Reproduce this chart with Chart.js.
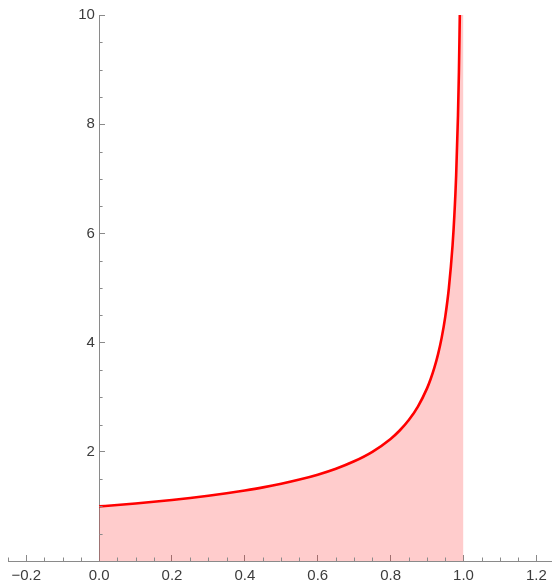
<!DOCTYPE html>
<html><head><meta charset="utf-8">
<script src="https://cdn.jsdelivr.net/npm/chart.js@4.4.1/dist/chart.umd.min.js"></script>
<style>html,body{margin:0;padding:0;background:#fff;}canvas{display:block;}</style>
</head><body>
<canvas id="c" width="552" height="582" style="width:552px;height:582px"></canvas>
<script>
// Curve samples
const xValues = [0, 0.05, 0.1, 0.15, 0.2, 0.25, 0.3, 0.35, 0.4, 0.45, 0.5, 0.55, 0.6, 0.65, 0.7, 0.75, 0.8, 0.825, 0.85, 0.875, 0.9, 0.91, 0.92, 0.93, 0.94, 0.95, 0.96, 0.97, 0.975, 0.98, 0.985, 0.9875, 0.99];
const yValues = [1.000, 1.026, 1.054, 1.085, 1.118, 1.155, 1.195, 1.240, 1.291, 1.348, 1.414, 1.491, 1.581, 1.690, 1.826, 2.000, 2.236, 2.390, 2.582, 2.828, 3.162, 3.333, 3.536, 3.780, 4.082, 4.472, 5.000, 5.774, 6.325, 7.071, 8.165, 8.944, 10.0];
// Shaded region continues to the right edge at the top of the plot
const fillEdgeX = [1.0];
const fillEdgeY = [10];
const xMajorTicks = [-0.2, 0, 0.2, 0.4, 0.6, 0.8, 1.0, 1.2];
const yMajorTicks = [2, 4, 6, 8, 10];
const xMinorTicks = [-0.25,-0.15,-0.1,-0.05,0.05,0.1,0.15,0.25,0.3,0.35,0.45,0.5,0.55,0.65,0.7,0.75,0.85,0.9,0.95,1.05,1.1,1.15];
const yMinorTicks = [0.5,1,1.5,2.5,3,3.5,4.5,5,5.5,6.5,7,7.5,8.5,9,9.5];

const axisColor = '#8a8a8a';
const labelColor = '#3c3c3c';

const lineData = xValues.map((x, i) => ({x: x, y: yValues[i]}));
const fillData = lineData.concat(fillEdgeX.map((x, i) => ({x: x, y: fillEdgeY[i]})));

const noPad = s => { s.paddingTop = 0; s.paddingBottom = 0; s.paddingLeft = 0; s.paddingRight = 0; };

const minorTicks = {
  id: 'minorTicks',
  afterDraw(chart) {
    const ctx = chart.ctx, xs = chart.scales.x, ys = chart.scales.y;
    const y0 = ys.getPixelForValue(0), x0 = xs.getPixelForValue(0);
    ctx.save();
    ctx.strokeStyle = axisColor;
    ctx.lineWidth = 1;
    ctx.beginPath();
    xMinorTicks.forEach(v => {
      const p = Math.round(xs.getPixelForValue(v)) + 0.5;
      ctx.moveTo(p, y0); ctx.lineTo(p, y0 - 3.5);
    });
    yMinorTicks.forEach(v => {
      const p = Math.round(ys.getPixelForValue(v)) + 0.5;
      ctx.moveTo(x0, p); ctx.lineTo(x0 + 3.5, p);
    });
    ctx.stroke();
    ctx.restore();
  }
};

new Chart(document.getElementById('c'), {
  type: 'line',
  data: {
    datasets: [
      {
        data: lineData,
        borderColor: '#ff0000',
        borderWidth: 2.6,
        pointRadius: 0,
        fill: false,
        cubicInterpolationMode: 'monotone',
        order: 0
      },
      {
        data: fillData,
        borderColor: 'rgba(0,0,0,0)',
        borderWidth: 0,
        backgroundColor: 'rgba(255,0,0,0.2)',
        pointRadius: 0,
        fill: 'origin',
        cubicInterpolationMode: 'monotone',
        order: 1
      }
    ]
  },
  options: {
    responsive: false,
    animation: false,
    devicePixelRatio: 1,
    layout: {padding: {left: 8, right: 0, top: 15, bottom: 0}},
    plugins: {legend: {display: false}, tooltip: {enabled: false}},
    scales: {
      x: {
        type: 'linear',
        position: 'bottom',
        min: -0.25,
        max: 1.243,
        z: 1,
        afterBuildTicks: s => { s.ticks = xMajorTicks.map(v => ({value: v})); },
        afterFit: s => { s.height = 21; noPad(s); },
        grid: {drawOnChartArea: false, drawTicks: true, tickLength: -6, tickColor: axisColor},
        border: {display: true, color: axisColor, width: 1},
        ticks: {
          padding: 12,
          color: labelColor,
          font: {family: 'Liberation Sans', size: 15},
          maxRotation: 0,
          autoSkip: false,
          callback: v => v.toFixed(1).replace('-', '\u2212')
        }
      },
      y: {
        type: 'linear',
        position: {x: 0},
        min: 0,
        max: 10,
        z: 1,
        afterBuildTicks: s => { s.ticks = yMajorTicks.map(v => ({value: v})); },
        afterFit: s => { s.width = 0; noPad(s); },
        grid: {drawOnChartArea: false, drawTicks: true, tickLength: -6, tickColor: axisColor},
        border: {display: true, color: axisColor, width: 1},
        ticks: {
          padding: 12,
          color: labelColor,
          font: {family: 'Liberation Sans', size: 15},
          autoSkip: false,
          callback: v => String(v) + ' '
        }
      }
    }
  },
  plugins: [minorTicks]
});
</script>
</body></html>
